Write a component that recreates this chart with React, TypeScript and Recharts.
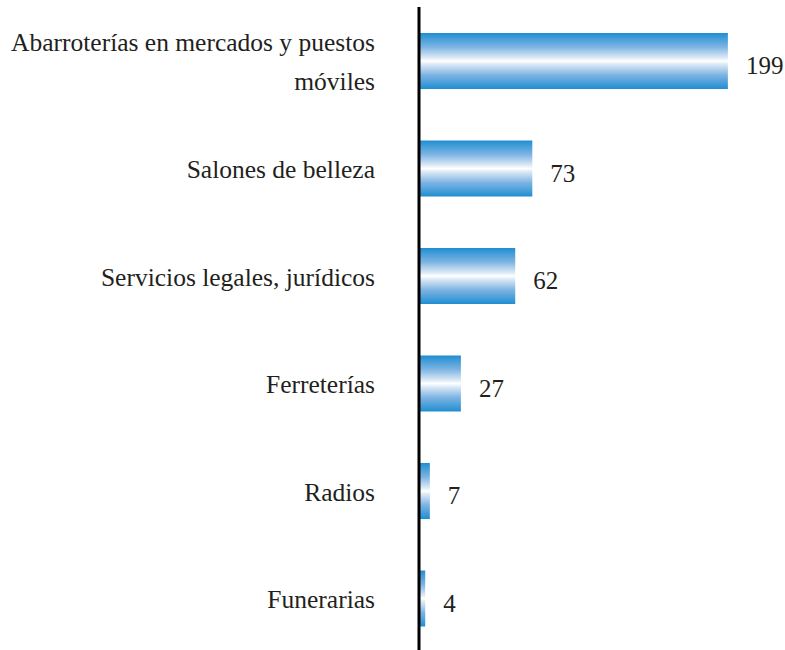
import { BarChart, Bar, XAxis, YAxis, LabelList } from 'recharts';

const categories = [
  'Abarroterías en mercados y puestos móviles',
  'Salones de belleza',
  'Servicios legales, jurídicos',
  'Ferreterías',
  'Radios',
  'Funerarias',
];
const counts = [199, 73, 62, 27, 7, 4];

const data = categories.map((name, i) => ({ name, count: counts[i] }));

const FONT = '"Liberation Serif", "Times New Roman", Times, serif';
const TEXT_COLOR = '#231f20';

// greedy word wrap, long names go over two lines
function wrapLabel(label: string, maxChars = 34): string[] {
  const lines: string[] = [];
  let current = '';
  label.split(' ').forEach((word) => {
    const next = current ? `${current} ${word}` : word;
    if (next.length > maxChars && current) {
      lines.push(current);
      current = word;
    } else {
      current = next;
    }
  });
  if (current) lines.push(current);
  return lines;
}

const CategoryTick = ({ x, y, payload }: any) => {
  const lines = wrapLabel(payload.value);
  return (
    <text
      x={x}
      y={y}
      textAnchor="end"
      fill={TEXT_COLOR}
      style={{ fontFamily: FONT, fontSize: 25.5 }}
    >
      {lines.map((line, i) => (
        <tspan key={i} x={x} dy={i === 0 ? 10 - (lines.length - 1) * 20 : 39}>
          {line}
        </tspan>
      ))}
    </text>
  );
};

const ValueLabel = ({ x, y, width, height, value }: any) => (
  <text
    x={Number(x) + Number(width) + 18}
    y={Number(y) + Number(height) / 2 + 13}
    textAnchor="start"
    fill={TEXT_COLOR}
    style={{ fontFamily: FONT, fontSize: 25 }}
  >
    {value}
  </text>
);

export default function App() {
  return (
    <div
      style={{
        position: 'absolute',
        left: 0,
        top: 0,
        width: 785,
        height: 650,
        overflow: 'hidden',
        background: '#ffffff',
      }}
    >
      <BarChart
        width={785}
        height={652}
        data={data}
        layout="vertical"
        margin={{ top: 7, right: 9, left: 0, bottom: 0 }}
      >
        <defs>
          <linearGradient id="barShine" x1="0" y1="0" x2="0" y2="1">
            <stop offset="0%" stopColor="#1f8ed1" />
            <stop offset="25%" stopColor="#7db4e3" />
            <stop offset="44%" stopColor="#dce9f6" />
            <stop offset="50%" stopColor="#ffffff" />
            <stop offset="56%" stopColor="#dce9f6" />
            <stop offset="75%" stopColor="#7db4e3" />
            <stop offset="100%" stopColor="#1f8ed1" />
          </linearGradient>
        </defs>
        <XAxis type="number" domain={[0, 230]} hide />
        <YAxis
          type="category"
          dataKey="name"
          width={419}
          axisLine={{ stroke: '#000000', strokeWidth: 3 }}
          tickLine={false}
          tickSize={0}
          tickMargin={44}
          tick={<CategoryTick />}
          interval={0}
        />
        <Bar dataKey="count" fill="url(#barShine)" barSize={56} isAnimationActive={false}>
          <LabelList dataKey="count" content={<ValueLabel />} />
        </Bar>
      </BarChart>
    </div>
  );
}
